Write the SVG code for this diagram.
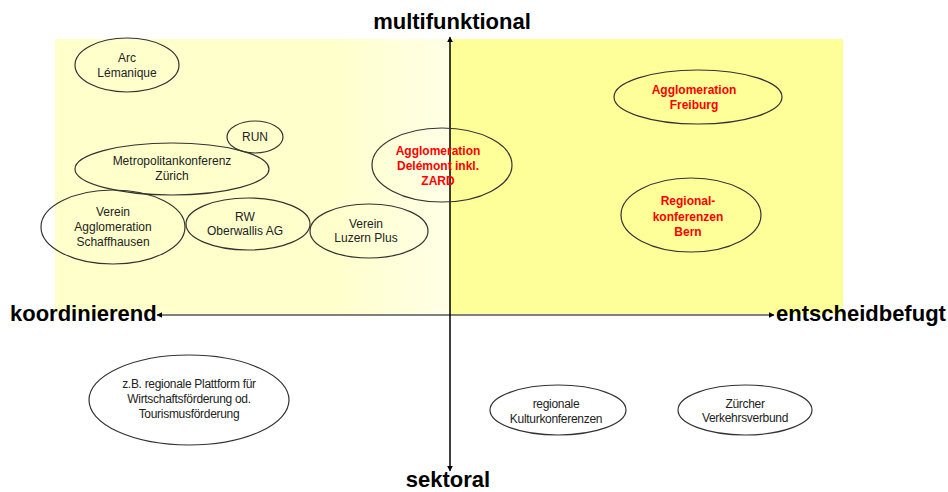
<svg xmlns="http://www.w3.org/2000/svg" width="948" height="492" viewBox="0 0 948 492">
<defs>
<linearGradient id="lg" x1="0" y1="0" x2="1" y2="0">
<stop offset="0" stop-color="#FFFFCC"/>
<stop offset="0.7" stop-color="#FFFFCC"/>
<stop offset="1" stop-color="#FFFFE6"/>
</linearGradient>
<marker id="ah" viewBox="0 0 10 10" refX="9" refY="5" markerWidth="6" markerHeight="6" markerUnits="userSpaceOnUse" orient="auto">
<path d="M0,0 L10,5 L0,10 z" fill="#000"/>
</marker>
<style>
.e{fill:none;stroke:#333;stroke-width:1.2}
.t{font-family:"Liberation Sans",Arial,sans-serif;font-size:12px;fill:#222;text-anchor:middle}
.r{font-family:"Liberation Sans",Arial,sans-serif;font-size:12px;font-weight:bold;fill:#FF0000;text-anchor:middle}
.n{font-family:"Liberation Sans",Arial,sans-serif;font-size:12px;fill:#222;text-anchor:middle;letter-spacing:-0.3px}
.a{font-family:"Liberation Sans",Arial,sans-serif;font-size:22px;font-weight:bold;fill:#000}
.ax{stroke:#000;stroke-width:1;fill:none}
</style>
</defs>
<rect x="0" y="0" width="948" height="492" fill="#fff"/>
<rect x="55" y="39" width="395" height="275" fill="url(#lg)"/>
<rect x="450" y="39" width="393" height="275" fill="#FFFF99"/>

<g id="connectors">
<line class="ax" x1="450" y1="470" x2="450" y2="37" marker-end="url(#ah)"/>
<line class="ax" x1="450" y1="40" x2="450" y2="471" marker-end="url(#ah)"/>
<line class="ax" x1="450" y1="315" x2="157" y2="315" marker-end="url(#ah)"/>
<line class="ax" x1="450" y1="315" x2="774" y2="315" marker-end="url(#ah)"/>
</g>

<g id="labels">
<text class="a" x="452" y="29" text-anchor="middle">multifunktional</text>
<text class="a" x="10" y="321">koordinierend</text>
<text class="a" x="776" y="321">entscheidbefugt</text>
<text class="a" x="448" y="487" text-anchor="middle">sektoral</text>
</g>

<g id="arc"><ellipse class="e" cx="127" cy="65" rx="52" ry="27"/><text class="t" x="127" y="62">Arc</text><text class="t" x="127" y="77">Lémanique</text></g>
<g id="run"><ellipse class="e" cx="255" cy="137" rx="28" ry="16"/><text class="t" x="255" y="141">RUN</text></g>
<g id="metro"><ellipse class="e" cx="172" cy="169" rx="97" ry="26"/><text class="t" x="172" y="165">Metropolitankonferenz</text><text class="t" x="172" y="180">Zürich</text></g>
<g id="schaffhausen"><ellipse class="e" cx="113" cy="227" rx="72" ry="37"/><text class="t" x="113" y="216">Verein</text><text class="t" x="113" y="231">Agglomeration</text><text class="t" x="113" y="246">Schaffhausen</text></g>
<g id="rw"><ellipse class="e" cx="248" cy="224" rx="62" ry="26"/><text class="t" x="245" y="221">RW</text><text class="t" x="245" y="235">Oberwallis AG</text></g>
<g id="luzern"><ellipse class="e" cx="369" cy="231" rx="59" ry="27"/><text class="t" x="366" y="228">Verein</text><text class="t" x="366" y="242">Luzern Plus</text></g>
<g id="delemont"><ellipse class="e" cx="442" cy="165" rx="70" ry="37"/><text class="r" x="438" y="155">Agglomeration</text><text class="r" x="438" y="170">Delémont inkl.</text><text class="r" x="438" y="185">ZARD</text></g>
<g id="freiburg"><ellipse class="e" cx="698" cy="97" rx="84" ry="27"/><text class="r" x="694" y="94">Agglomeration</text><text class="r" x="694" y="109">Freiburg</text></g>
<g id="bern"><ellipse class="e" cx="691" cy="215" rx="70" ry="37"/><text class="r" x="688" y="205">Regional-</text><text class="r" x="688" y="221">konferenzen</text><text class="r" x="688" y="236">Bern</text></g>
<g id="plattform"><ellipse class="e" cx="189" cy="400" rx="100" ry="45"/><text class="n" x="189" y="388">z.B. regionale Plattform für</text><text class="n" x="189" y="403">Wirtschaftsförderung od.</text><text class="n" x="189" y="418">Tourismusförderung</text></g>
<g id="kultur"><ellipse class="e" cx="558" cy="410" rx="68" ry="25"/><text class="n" x="556" y="408">regionale</text><text class="n" x="556" y="423">Kulturkonferenzen</text></g>
<g id="zvv"><ellipse class="e" cx="745" cy="410" rx="67" ry="25"/><text class="n" x="745" y="408">Zürcher</text><text class="n" x="745" y="422">Verkehrsverbund</text></g>
</svg>
